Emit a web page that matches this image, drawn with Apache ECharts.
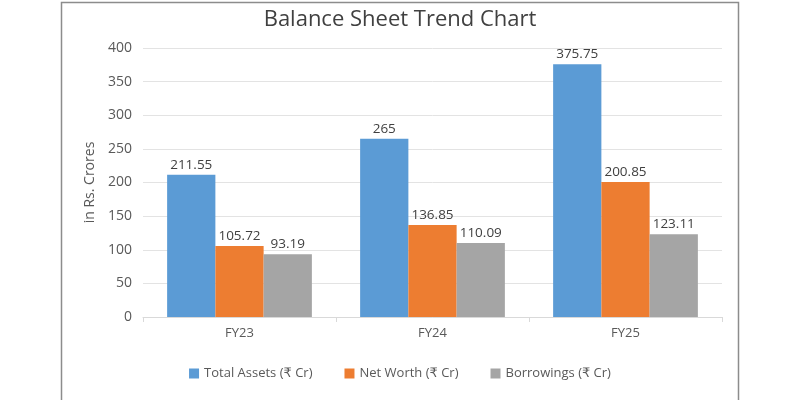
<!DOCTYPE html>
<html>
<head>
<meta charset="utf-8">
<title>Balance Sheet Trend Chart</title>
<script src="https://cdn.jsdelivr.net/npm/echarts@6/dist/echarts.min.js"></script>
<style>
  html, body { margin: 0; padding: 0; background: #fff; }
  #chart { width: 800px; height: 400px; }
</style>
</head>
<body>
<div id="chart"></div>
<script type="text/javascript">
  var categories = ['FY23', 'FY24', 'FY25'];
  var totalAssets = [211.55, 265, 375.75];
  var netWorth = [105.72, 136.85, 200.85];
  var borrowings = [93.19, 110.09, 123.11];
  var seriesNames = ['Total Assets (₹ Cr)', 'Net Worth (₹ Cr)', 'Borrowings (₹ Cr)'];
  var colors = ['#5b9bd5', '#ed7d31', '#a5a5a5'];

  var font = '"Open Sans", "DejaVu Sans", sans-serif';
  var chart = echarts.init(document.getElementById('chart'));

  function barSeries(name, data, color) {
    return {
      name: name,
      type: 'bar',
      data: data,
      barGap: '0%',
      barCategoryGap: '25%',
      itemStyle: { color: color },
      label: {
        show: true,
        position: 'top',
        distance: 3,
        color: '#404040',
        fontSize: 13.5,
        fontFamily: font
      }
    };
  }

  var option = {
    animation: false,
    color: colors,
    graphic: [{
      type: 'rect',
      shape: { x: 61.5, y: 2.5, width: 677, height: 400 },
      style: { fill: 'none', stroke: '#8c8c8c', lineWidth: 1.5 },
      silent: true
    }],
    title: {
      text: 'Balance Sheet Trend Chart',
      left: 'center',
      top: 4,
      textStyle: { fontSize: 22, fontWeight: 'normal', color: '#404040', fontFamily: font }
    },
    legend: {
      bottom: 15,
      left: 'center',
      itemWidth: 10,
      itemHeight: 10,
      itemGap: 32,
      icon: 'rect',
      textStyle: { fontSize: 13, color: '#595959', fontFamily: font },
      data: seriesNames
    },
    grid: { left: 143, right: 78, top: 48, bottom: 83 },
    xAxis: {
      type: 'category',
      data: categories,
      axisLine: { lineStyle: { color: '#d9d9d9' } },
      axisTick: { show: true, length: 5, lineStyle: { color: '#d9d9d9' } },
      axisLabel: { color: '#595959', fontSize: 13, margin: 10, fontFamily: font }
    },
    yAxis: {
      type: 'value',
      min: 0,
      max: 400,
      interval: 50,
      name: 'in Rs. Crores',
      nameLocation: 'middle',
      nameGap: 46,
      nameRotate: 90,
      nameTextStyle: { color: '#595959', fontSize: 14, fontFamily: font },
      axisLine: { show: false },
      axisTick: { show: false },
      axisLabel: { color: '#595959', fontSize: 14, margin: 11, fontFamily: font },
      splitLine: { lineStyle: { color: '#e3e3e3' } }
    },
    series: [
      barSeries(seriesNames[0], totalAssets, colors[0]),
      barSeries(seriesNames[1], netWorth, colors[1]),
      barSeries(seriesNames[2], borrowings, colors[2])
    ]
  };
  chart.setOption(option);
</script>
</body>
</html>
